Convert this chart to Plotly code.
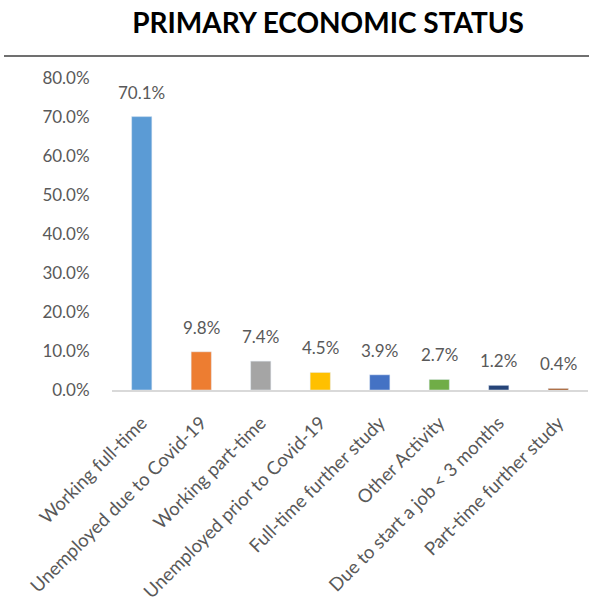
import plotly.graph_objects as go

categories = ["Working full-time", "Unemployed due to Covid-19", "Working part-time",
              "Unemployed prior to Covid-19", "Full-time further study", "Other Activity",
              "Due to start a job < 3 months", "Part-time further study"]
values = [70.1, 9.8, 7.4, 4.5, 3.9, 2.7, 1.2, 0.4]
colors = ["#5B9BD5", "#ED7D31", "#A5A5A5", "#FFC000", "#4472C4", "#70AD47", "#264478", "#9E480E"]
tick_vals = [0, 10, 20, 30, 40, 50, 60, 70, 80]
tick_text = [f"{v:.1f}%" for v in tick_vals]

FONT = "Lato"
GRAY = "#595959"

fig = go.Figure(go.Bar(
    x=categories, y=values, marker_color=colors,
    cliponaxis=False,
))
for c, v in zip(categories, values):
    fig.add_annotation(x=c, y=v, text=f"{v:.1f}%", showarrow=False,
                       yanchor="bottom", yshift=12,
                       font=dict(family=FONT, size=17, color=GRAY))
fig.update_layout(
    width=589, height=601,
    margin=dict(l=112, r=1, t=78, b=211),
    paper_bgcolor="white", plot_bgcolor="white",
    bargap=0.66,
    showlegend=False,
    title=dict(text="<b>PRIMARY ECONOMIC STATUS</b>", x=0.557, xanchor="center",
               y=1 - 23 / 601, yanchor="middle",
               font=dict(family=FONT, size=28, color="#000000")),
    font=dict(family=FONT, color=GRAY),
)
fig.update_yaxes(range=[0, 80], tickvals=tick_vals, ticktext=tick_text,
                 showgrid=False, zeroline=False, showline=False, automargin=False,
                 ticks="outside", ticklen=18, tickcolor="rgba(0,0,0,0)",
                 tickfont=dict(size=17, color=GRAY))
fig.update_xaxes(tickangle=-45, showline=True, linecolor="#D9D9D9", linewidth=1.5,
                 automargin=False,
                 ticks="outside", ticklen=13, tickcolor="rgba(0,0,0,0)",
                 tickfont=dict(size=18.5, color=GRAY))
fig.add_shape(type="line", xref="paper", yref="paper",
              x0=-108 / 476, x1=1.01, y0=1 + 22 / 312, y1=1 + 22 / 312,
              line=dict(color="#404040", width=1.5))
fig.write_html("out.html")
